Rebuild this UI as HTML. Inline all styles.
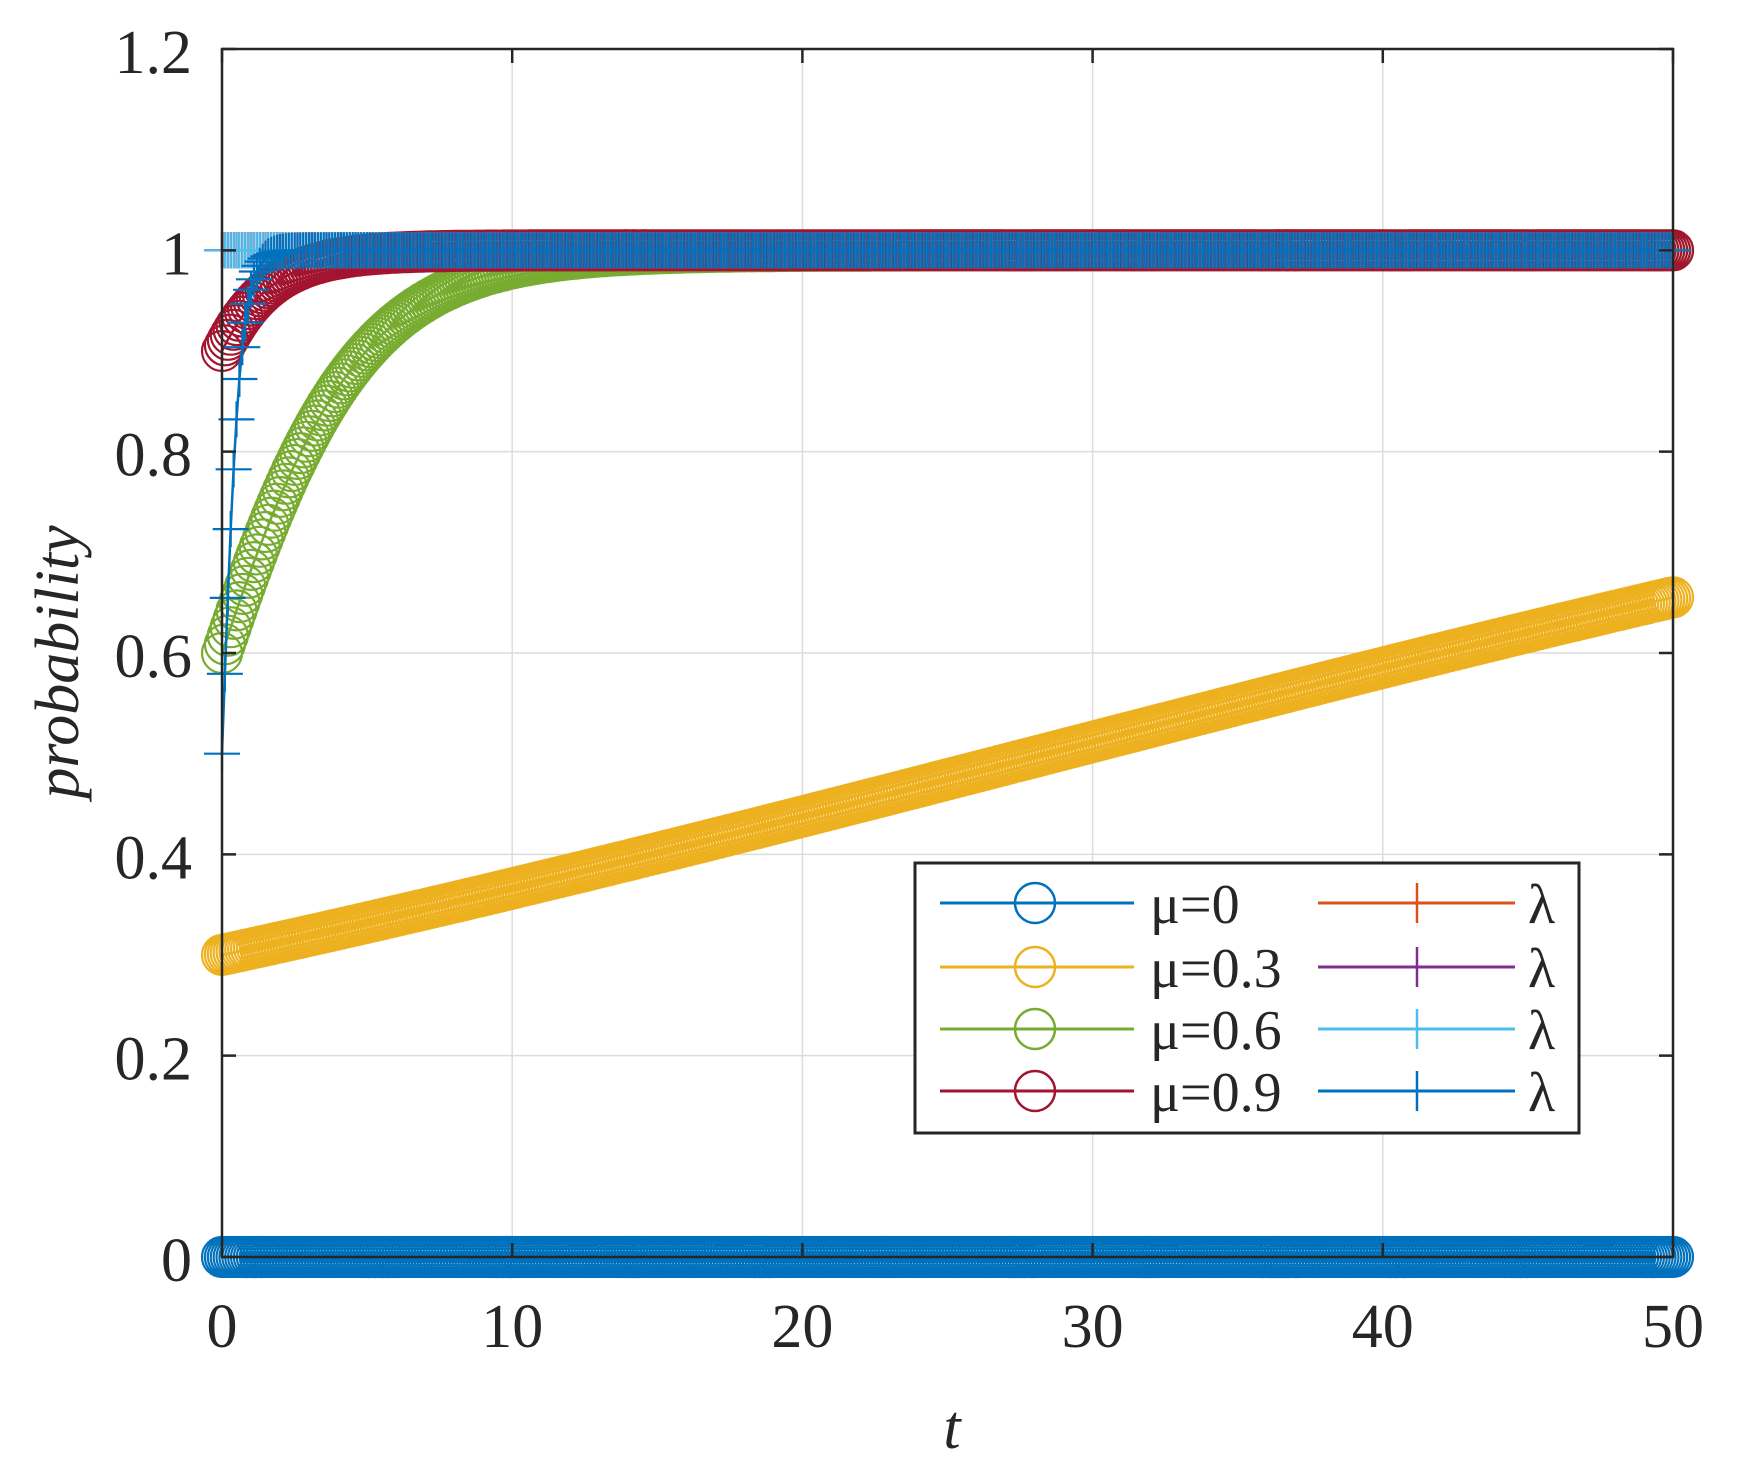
<!DOCTYPE html>
<html><head><meta charset="utf-8"><style>
html,body{margin:0;padding:0;background:#fff;}
svg{display:block;}
text{font-family:"Liberation Serif",serif;fill:#262626;}
</style></head><body>
<svg id="s" width="1748" height="1460" viewBox="0 0 1748 1460" xmlns="http://www.w3.org/2000/svg">
<rect width="1748" height="1460" fill="#fff"/>
<g id="grid" stroke="#dcdcdc" stroke-width="1.5"></g>
<g id="data" fill="none"></g>
<g id="axes"></g>
<g id="legend"></g>
<text x="952" y="1448" font-size="62" font-style="italic" text-anchor="middle">t</text>
<text transform="translate(78,662) rotate(-90)" font-size="62" font-style="italic" text-anchor="middle">probability</text>
</svg>
<script>
var NS="http://www.w3.org/2000/svg";
function el(p,t,a,txt){var e=document.createElementNS(NS,t);for(var k in a)e.setAttribute(k,a[k]);if(txt!=null)e.textContent=txt;p.appendChild(e);return e;}
var L=222,R=1673,T=49,B=1257;
function X(t){return L+(R-L)*t/50;}
function Y(p){return B-(B-T)*p/1.2;}
var g=document.getElementById('grid'),ax=document.getElementById('axes'),d=document.getElementById('data'),lg=document.getElementById('legend');
for(var i=1;i<5;i++){var x=X(i*10);el(g,'line',{x1:x,y1:T,x2:x,y2:B});}
for(var i=1;i<6;i++){var y=Y(i*0.2);el(g,'line',{x1:L,y1:y,x2:R,y2:y});}
// data
var C={b:'#0072BD',o:'#D95319',y:'#EDB120',p:'#7E2F8E',g:'#77AC30',c:'#4DBEEE',r:'#A2142F'};
function logi(p0,r,t){return 1/(1+(1/p0-1)*Math.exp(-r*t));}
var series=[
 {c:C.b,f:function(t){return 0;},m:'o'},
 {c:C.y,f:function(t){return logi(0.3,0.0298,t);},m:'o'},
 {c:C.g,f:function(t){return logi(0.6,0.36,t);},m:'o'},
 {c:C.r,f:function(t){return logi(0.9,0.65,t);},m:'o'},
 {c:C.o,f:function(t){return 1;},m:'+'},
 {c:C.p,f:function(t){return 1;},m:'+'},
 {c:C.c,f:function(t){return 1;},m:'+'},
 {c:C.b,f:function(t){return logi(0.5,3.2,t);},m:'+'}
];
series.forEach(function(s){
  var pts=[],mk=[];
  for(var i=0;i<=500;i++){var t=i*0.1,x=X(t),y=Y(s.f(t));pts.push(x.toFixed(1)+','+y.toFixed(1));
    if(s.m=='o')mk.push('M'+(x-20).toFixed(1)+','+y.toFixed(1)+'a20,20 0 1,0 40,0a20,20 0 1,0 -40,0');
    else mk.push('M'+(x-18).toFixed(1)+','+y.toFixed(1)+'h36M'+x.toFixed(1)+','+(y-18).toFixed(1)+'v36');
  }
  el(d,'polyline',{points:pts.join(' '),stroke:s.c,'stroke-width':2.5});
  el(d,'path',{d:mk.join(''),stroke:s.c,'stroke-width':2.2});
});
// axes box & ticks
el(ax,'rect',{x:L,y:T,width:R-L,height:B-T,fill:'none',stroke:'#262626','stroke-width':2.5});
var tk='';
for(var i=0;i<=5;i++){var x=X(i*10);tk+='M'+x+','+B+'v-14M'+x+','+T+'v14';
  el(ax,'text',{x:x,y:B+90,'font-size':62,'text-anchor':'middle'},String(i*10));}
var yl=['0','0.2','0.4','0.6','0.8','1','1.2'];
for(var i=0;i<=6;i++){var y=Y(i*0.2);tk+='M'+L+','+y+'h14M'+R+','+y+'h-14';
  el(ax,'text',{x:192,y:y+24,'font-size':62,'text-anchor':'end'},yl[i]);}
el(ax,'path',{d:tk,stroke:'#262626','stroke-width':2.5,fill:'none'});
// legend
el(lg,'rect',{x:915,y:863,width:664,height:270,fill:'#fff',stroke:'#262626','stroke-width':3});
var rows=[903,967,1029,1091];
var lc=[C.b,C.y,C.g,C.r],ll=['μ=0','μ=0.3','μ=0.6','μ=0.9'],rc=[C.o,C.p,C.c,C.b];
for(var i=0;i<4;i++){var y=rows[i];
  el(lg,'line',{x1:940,y1:y,x2:1134,y2:y,stroke:lc[i],'stroke-width':3});
  el(lg,'circle',{cx:1035,cy:y,r:20,fill:'none',stroke:lc[i],'stroke-width':2.5});
  el(lg,'text',{x:1150,y:y+20,'font-size':56},ll[i]);
  el(lg,'line',{x1:1318,y1:y,x2:1515,y2:y,stroke:rc[i],'stroke-width':3});
  el(lg,'line',{x1:1417,y1:y-20,x2:1417,y2:y+20,stroke:rc[i],'stroke-width':2.5});
  el(lg,'text',{x:1528,y:y+20,'font-size':56},'λ');
}
</script>
</body></html>
